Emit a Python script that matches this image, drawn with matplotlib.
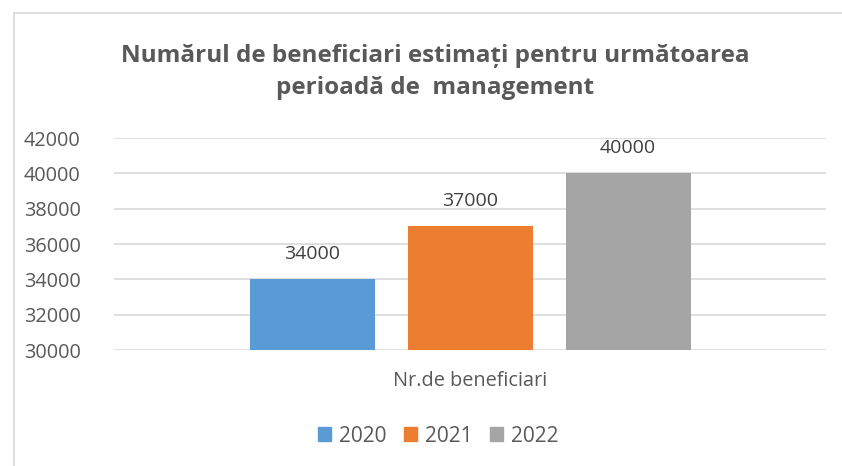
import matplotlib.pyplot as plt
from matplotlib.lines import Line2D
from matplotlib.patches import Patch

years = ["2020", "2021", "2022"]
values = [34000, 37000, 40000]
category = "Nr.de beneficiari"
colors = ["#5B9BD5", "#ED7D31", "#A5A5A5"]
title = "Numărul de beneficiari estimați pentru următoarea\nperioadă de  management"

txt = "#595959"
plt.rcParams['font.family'] = ['Open Sans', 'DejaVu Sans']

fig = plt.figure(figsize=(8.42, 4.66), dpi=100)
W, H = 842, 466
ax = fig.add_axes([114 / W, 1 - 350 / H, 712 / W, 212 / H])

bw = 125 / 712
step = 158 / 712
for i, (y, v, c) in enumerate(zip(years, values, colors)):
    x = (i - 1) * step
    ax.bar(x, v - 30000, bottom=30000, width=bw, color=c, label=y, zorder=3)
    ax.text(x, v + 900, f"{v}", ha="center", va="bottom", fontsize=14, color="#404040")

ax.set_xlim(-0.5, 0.5)
ax.set_ylim(30000, 42000)
ax.set_yticks(range(30000, 42001, 2000))
ax.yaxis.grid(True, color="#D9D9D9", linewidth=1.2, zorder=0)
ax.set_xticks([])
for s in ax.spines.values():
    s.set_visible(False)
ax.tick_params(axis="y", length=0, pad=24, labelsize=14.3, labelcolor=txt)

fig.text(470 / W, 1 - 381 / H, category, ha="center", va="center", fontsize=14.3, color=txt)
fig.text(435 / W, 1 - 72 / H, title, ha="center", va="center", fontsize=17.5,
         fontweight="bold", color=txt, linespacing=1.45)

handles = [Patch(color=c) for c in colors]
fig.legend(handles, years, loc="center", bbox_to_anchor=(438 / W, 1 - 436 / H), ncol=3,
           frameon=False, fontsize=15, labelcolor=txt, handlelength=0.65, handleheight=0.65,
           handletextpad=0.35, columnspacing=0.85)

# chart frame (cropped at right/bottom)
fig.add_artist(Line2D([13.5 / W, 13.5 / W], [0, 1 - 12.5 / H], color="#D9D9D9", lw=1.2))
fig.add_artist(Line2D([13.5 / W, 1], [1 - 12.5 / H, 1 - 12.5 / H], color="#D9D9D9", lw=1.2))

fig.savefig("out.png", dpi=100)
